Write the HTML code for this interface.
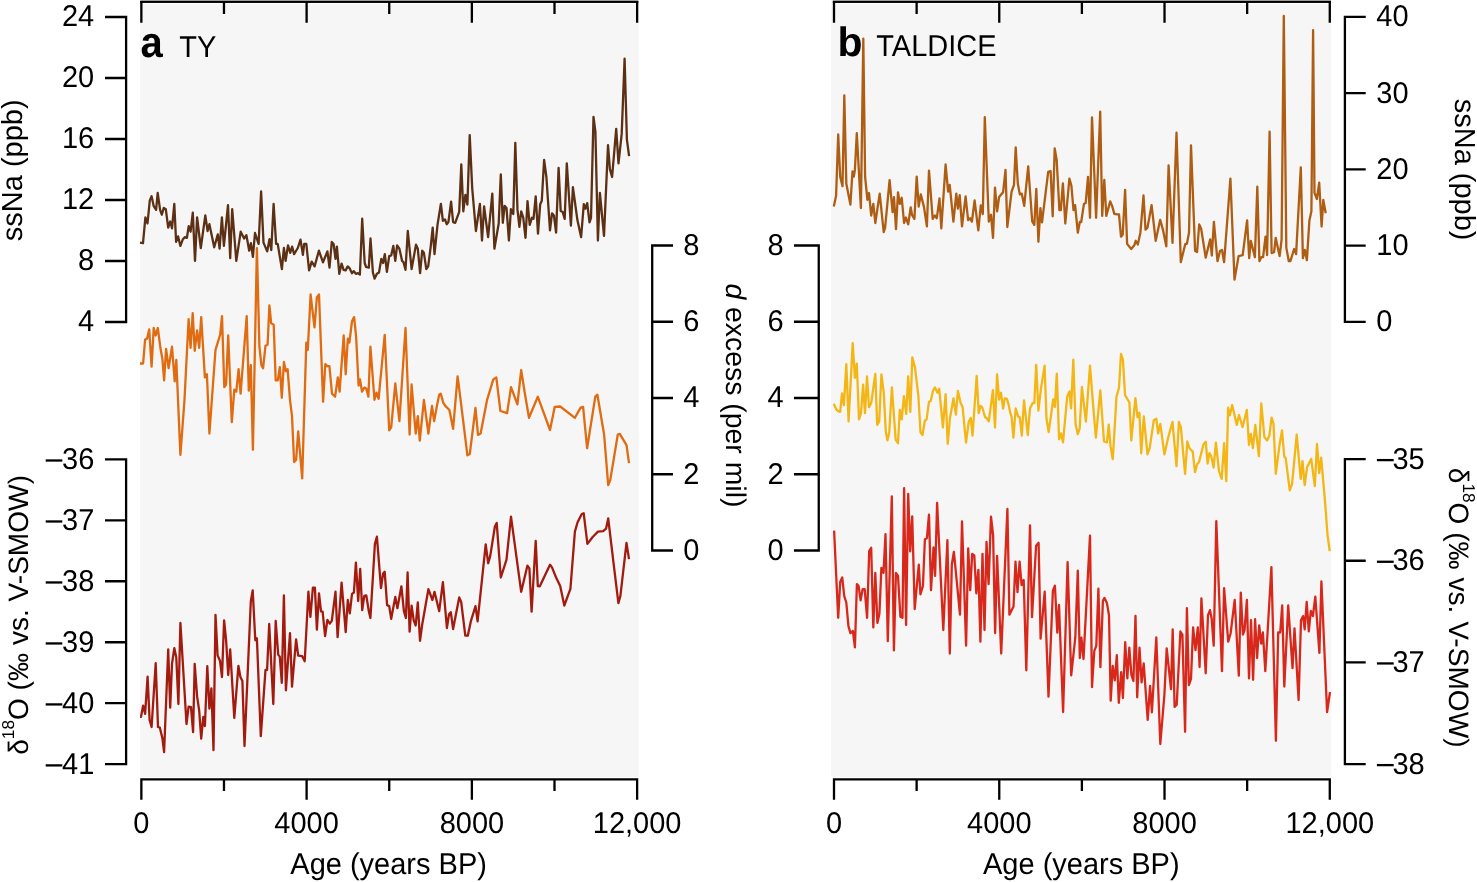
<!DOCTYPE html><html><head><meta charset="utf-8"><title>chart</title>
<style>html,body{margin:0;padding:0;background:#fff;}svg{display:block;will-change:transform;font-family:"Liberation Sans",sans-serif;}text{font-family:"Liberation Sans",sans-serif;fill:#000;text-rendering:geometricPrecision;}</style></head><body>
<svg width="1477" height="882" viewBox="0 0 1477 882">
<rect x="0" y="0" width="1477" height="882" fill="#ffffff"/>
<rect x="140.0" y="0" width="498.5" height="776.9" fill="#f6f6f6"/>
<rect x="831.1" y="0" width="500.2" height="776.9" fill="#f6f6f6"/>
<rect x="140.20" y="2.9" width="498.08" height="1.4" fill="#fff"/>
<rect x="140.20" y="0" width="498.08" height="1.1" fill="#9c9c9c"/>
<rect x="140.20" y="1.0" width="498.08" height="1.95" fill="#000"/>
<path d="M141.35 1.0V22.7M223.98 1.0V14.0M306.61 1.0V22.7M389.24 1.0V14.0M471.87 1.0V22.7M554.50 1.0V14.0M637.13 1.0V22.7M140.20 779.3H638.28M141.35 779.3V799.8M223.98 779.3V791.0M306.61 779.3V799.8M389.24 779.3V791.0M471.87 779.3V799.8M554.50 779.3V791.0M637.13 779.3V799.8" stroke="#000" stroke-width="2.3" fill="none"/>
<rect x="832.85" y="2.9" width="498.08" height="1.4" fill="#fff"/>
<rect x="832.85" y="0" width="498.08" height="1.1" fill="#9c9c9c"/>
<rect x="832.85" y="1.0" width="498.08" height="1.95" fill="#000"/>
<path d="M834.00 1.0V22.7M916.63 1.0V14.0M999.26 1.0V22.7M1081.89 1.0V14.0M1164.52 1.0V22.7M1247.15 1.0V14.0M1329.78 1.0V22.7M832.85 779.3H1330.93M834.00 779.3V799.8M916.63 779.3V791.0M999.26 779.3V799.8M1081.89 779.3V791.0M1164.52 779.3V799.8M1247.15 779.3V791.0M1329.78 779.3V799.8" stroke="#000" stroke-width="2.3" fill="none"/>
<path d="M126.1 15.85V323.15M126.1 17.00h-21.1M126.1 78.00h-21.1M126.1 139.00h-21.1M126.1 200.00h-21.1M126.1 261.00h-21.1M126.1 322.00h-21.1" stroke="#000" stroke-width="2.3" fill="none"/>
<text transform="translate(94.2 26.4) scale(1 1.035)" font-size="29" text-anchor="end" >24</text>
<text transform="translate(94.2 87.4) scale(1 1.035)" font-size="29" text-anchor="end" >20</text>
<text transform="translate(94.2 148.4) scale(1 1.035)" font-size="29" text-anchor="end" >16</text>
<text transform="translate(94.2 209.4) scale(1 1.035)" font-size="29" text-anchor="end" >12</text>
<text transform="translate(94.2 270.4) scale(1 1.035)" font-size="29" text-anchor="end" >8</text>
<text transform="translate(94.2 331.4) scale(1 1.035)" font-size="29" text-anchor="end" >4</text>
<path d="M126.1 458.15V765.35M126.1 459.30h-21.1M126.1 520.28h-21.1M126.1 581.26h-21.1M126.1 642.24h-21.1M126.1 703.22h-21.1M126.1 764.20h-21.1" stroke="#000" stroke-width="2.3" fill="none"/>
<text transform="translate(94.3 468.7) scale(1 1.035)" font-size="29" text-anchor="end" >36</text>
<path d="M45.7 460.50H62.3" stroke="#000" stroke-width="2.3" fill="none"/>
<text transform="translate(94.3 529.68) scale(1 1.035)" font-size="29" text-anchor="end" >37</text>
<path d="M45.7 521.48H62.3" stroke="#000" stroke-width="2.3" fill="none"/>
<text transform="translate(94.3 590.66) scale(1 1.035)" font-size="29" text-anchor="end" >38</text>
<path d="M45.7 582.46H62.3" stroke="#000" stroke-width="2.3" fill="none"/>
<text transform="translate(94.3 651.64) scale(1 1.035)" font-size="29" text-anchor="end" >39</text>
<path d="M45.7 643.44H62.3" stroke="#000" stroke-width="2.3" fill="none"/>
<text transform="translate(94.3 712.62) scale(1 1.035)" font-size="29" text-anchor="end" >40</text>
<path d="M45.7 704.42H62.3" stroke="#000" stroke-width="2.3" fill="none"/>
<text transform="translate(94.3 773.6) scale(1 1.035)" font-size="29" text-anchor="end" >41</text>
<path d="M45.7 765.40H62.3" stroke="#000" stroke-width="2.3" fill="none"/>
<path d="M652.2 244.35V551.65M652.2 245.50h20.8M652.2 321.75h20.8M652.2 398.00h20.8M652.2 474.25h20.8M652.2 550.50h20.8" stroke="#000" stroke-width="2.3" fill="none"/>
<text transform="translate(691.4 254.9) scale(1 1.035)" font-size="29" text-anchor="middle" >8</text>
<text transform="translate(691.4 331.15) scale(1 1.035)" font-size="29" text-anchor="middle" >6</text>
<text transform="translate(691.4 407.4) scale(1 1.035)" font-size="29" text-anchor="middle" >4</text>
<text transform="translate(691.4 483.65) scale(1 1.035)" font-size="29" text-anchor="middle" >2</text>
<text transform="translate(691.4 559.9) scale(1 1.035)" font-size="29" text-anchor="middle" >0</text>
<path d="M818.75 244.35V551.65M818.75 245.50h-24.8M818.75 321.75h-24.8M818.75 398.00h-24.8M818.75 474.25h-24.8M818.75 550.50h-24.8" stroke="#000" stroke-width="2.3" fill="none"/>
<text transform="translate(775.6 254.9) scale(1 1.035)" font-size="29" text-anchor="middle" >8</text>
<text transform="translate(775.6 331.15) scale(1 1.035)" font-size="29" text-anchor="middle" >6</text>
<text transform="translate(775.6 407.4) scale(1 1.035)" font-size="29" text-anchor="middle" >4</text>
<text transform="translate(775.6 483.65) scale(1 1.035)" font-size="29" text-anchor="middle" >2</text>
<text transform="translate(775.6 559.9) scale(1 1.035)" font-size="29" text-anchor="middle" >0</text>
<path d="M1344.9 15.75V323.05M1344.9 16.90h20.8M1344.9 93.15h20.8M1344.9 169.40h20.8M1344.9 245.65h20.8M1344.9 321.90h20.8" stroke="#000" stroke-width="2.3" fill="none"/>
<text transform="translate(1376.3 26.299999999999997) scale(1 1.035)" font-size="29" text-anchor="start" >40</text>
<text transform="translate(1376.3 102.55000000000001) scale(1 1.035)" font-size="29" text-anchor="start" >30</text>
<text transform="translate(1376.3 178.8) scale(1 1.035)" font-size="29" text-anchor="start" >20</text>
<text transform="translate(1376.3 255.05) scale(1 1.035)" font-size="29" text-anchor="start" >10</text>
<text transform="translate(1376.3 331.29999999999995) scale(1 1.035)" font-size="29" text-anchor="start" >0</text>
<path d="M1344.9 457.95V765.26M1344.9 459.10h20.8M1344.9 560.77h20.8M1344.9 662.44h20.8M1344.9 764.11h20.8" stroke="#000" stroke-width="2.3" fill="none"/>
<text transform="translate(1392.4 468.5) scale(1 1.035)" font-size="29" text-anchor="start" >35</text>
<path d="M1376.9 460.10H1393.7" stroke="#000" stroke-width="2.3" fill="none"/>
<text transform="translate(1392.4 570.17) scale(1 1.035)" font-size="29" text-anchor="start" >36</text>
<path d="M1376.9 561.77H1393.7" stroke="#000" stroke-width="2.3" fill="none"/>
<text transform="translate(1392.4 671.84) scale(1 1.035)" font-size="29" text-anchor="start" >37</text>
<path d="M1376.9 663.44H1393.7" stroke="#000" stroke-width="2.3" fill="none"/>
<text transform="translate(1392.4 773.51) scale(1 1.035)" font-size="29" text-anchor="start" >38</text>
<path d="M1376.9 765.11H1393.7" stroke="#000" stroke-width="2.3" fill="none"/>
<text transform="translate(141.3 833) scale(1 1.035)" font-size="29" text-anchor="middle" >0</text>
<text transform="translate(306.6 833) scale(1 1.035)" font-size="29" text-anchor="middle" >4000</text>
<text transform="translate(471.9 833) scale(1 1.035)" font-size="29" text-anchor="middle" >8000</text>
<text transform="translate(637.1 833) scale(1 1.035)" font-size="29" text-anchor="middle" >12,000</text>
<text transform="translate(834.0 833) scale(1 1.035)" font-size="29" text-anchor="middle" >0</text>
<text transform="translate(999.3 833) scale(1 1.035)" font-size="29" text-anchor="middle" >4000</text>
<text transform="translate(1164.5 833) scale(1 1.035)" font-size="29" text-anchor="middle" >8000</text>
<text transform="translate(1329.8 833) scale(1 1.035)" font-size="29" text-anchor="middle" >12,000</text>
<text transform="translate(388.6 873.5) scale(1 1.035)" font-size="29" text-anchor="middle" >Age (years BP)</text>
<text transform="translate(1081.3 873.5) scale(1 1.035)" font-size="29" text-anchor="middle" >Age (years BP)</text>
<text transform="translate(140.5 57.0) scale(0.93 1)" font-size="43" font-weight="bold">a</text>
<text transform="translate(179.3 57.0) scale(1 1.035)" font-size="29" text-anchor="start" >TY</text>
<text x="837.4" y="55.8" font-size="41" font-weight="bold">b</text>
<text transform="translate(876.3 55.7) scale(1 1.035)" font-size="29" text-anchor="start" >TALDICE</text>
<text transform="translate(21.8 170.3) rotate(-90)" font-size="29" text-anchor="middle">ssNa (ppb)</text>
<text transform="translate(27.8 754.8) rotate(-90)" font-size="28.1" text-anchor="start">δ<tspan font-size="17.2" dy="-13.4">18</tspan><tspan dy="13.4">O (‰ vs. V-SMOW)</tspan></text>
<text transform="translate(725.7 395.4) rotate(90)" font-size="28.4" text-anchor="middle"><tspan font-style="italic">d</tspan> excess (per mil)</text>
<text transform="translate(1455 169.6) rotate(90)" font-size="29" text-anchor="middle">ssNa (ppb)</text>
<text transform="translate(1449.4 467.8) rotate(90)" font-size="28.1" text-anchor="start">δ<tspan font-size="17.2" dy="-13.4">18</tspan><tspan dy="13.4">O (‰ vs. V-SMOW)</tspan></text>
<polyline points="140.0,716.8 141.0,716.8 143.1,705.6 145.1,713.8 147.6,676.6 149.6,719.9 151.6,727.0 155.7,663.2 158.0,727.0 159.8,727.6 162.4,738.3 164.1,752.1 168.2,649.5 170.2,707.6 172.0,663.8 174.3,648.1 176.3,657.6 178.4,704.0 180.4,623.0 186.5,724.0 188.6,706.6 191.0,707.2 193.1,732.1 194.7,663.8 197.1,696.4 199.2,710.7 201.2,738.7 203.3,716.8 204.9,726.0 207.3,666.2 209.4,708.7 211.4,688.3 213.5,750.1 215.5,614.8 217.6,655.6 220.0,660.7 222.0,677.0 224.1,620.3 226.1,640.3 228.2,675.0 230.2,649.5 234.3,717.9 238.4,665.8 240.4,677.0 242.4,681.1 244.5,746.0 250.8,601.5 252.7,590.3 255.3,640.3 256.9,638.3 260.8,736.2 265.5,669.9 267.1,669.9 269.2,624.0 273.3,704.0 275.7,620.9 278.2,654.6 279.8,656.6 281.8,682.8 283.9,595.4 285.9,690.3 290.0,633.2 292.0,686.6 296.1,639.3 298.2,655.6 302.2,656.2 304.7,661.3 308.4,591.7 310.4,616.8 312.9,587.6 314.9,587.6 316.9,629.7 319.0,593.4 321.0,611.3 322.6,611.7 325.1,636.2 327.4,619.9 329.8,623.6 331.8,620.9 335.5,591.7 337.6,637.1 341.6,582.6 345.7,632.2 347.8,600.0 349.8,613.3 352.0,593.9 353.9,592.5 355.9,562.6 358.2,601.0 360.2,569.0 362.2,610.2 364.3,595.9 366.3,595.5 368.8,611.2 370.4,618.0 374.9,543.9 376.9,536.7 381.0,588.2 383.1,573.5 384.7,571.8 387.1,605.1 389.2,606.1 391.2,618.8 395.3,596.9 397.4,608.2 401.4,586.3 403.9,611.2 405.9,618.0 407.6,572.5 409.6,631.6 411.6,605.7 413.7,620.4 415.7,625.5 417.8,602.5 420.0,640.8 422.2,624.5 428.4,589.2 432.4,600.0 434.5,591.8 439.2,611.2 442.9,582.2 446.9,628.0 449.0,614.3 450.8,612.2 453.1,629.0 459.2,597.5 461.2,602.0 465.3,635.7 467.8,635.7 470.8,621.4 475.5,606.1 477.6,621.4 485.7,544.3 488.2,563.3 490.2,556.1 494.9,526.5 496.7,522.9 500.8,577.5 506.5,559.6 511.0,516.7 521.2,591.8 527.4,565.7 529.4,568.4 531.6,611.6 535.7,540.8 537.8,586.1 539.8,586.3 550.0,564.7 552.0,567.4 556.1,577.5 560.2,586.1 564.3,605.5 570.4,588.8 574.9,531.6 577.5,522.5 581.6,514.3 583.7,513.3 587.4,543.9 592.9,536.7 598.0,531.6 603.1,531.2 606.1,528.6 608.2,518.4 613.3,561.2 618.4,603.1 620.4,595.9 626.5,542.9 629.0,559.2" fill="none" stroke="#a31b0f" stroke-width="2.3" stroke-linejoin="round" stroke-linecap="butt"/>
<polyline points="140.0,363.5 143.1,363.5 145.1,339.6 147.1,338.6 149.2,329.4 151.6,366.7 153.7,328.0 155.7,335.5 157.8,328.0 160.4,347.8 162.4,359.0 164.1,380.4 166.1,348.8 168.6,368.2 172.0,346.7 174.7,381.4 176.3,360.0 180.4,454.9 184.5,399.8 188.6,319.2 190.6,347.8 192.7,313.1 194.7,350.8 197.1,330.4 199.2,347.8 201.2,317.1 204.9,377.4 206.9,374.3 209.4,433.5 215.5,349.8 220.2,334.5 222.0,316.1 224.3,387.1 226.1,384.5 228.2,335.5 231.8,422.2 234.3,389.6 236.3,391.6 238.6,369.2 240.6,393.7 246.7,316.1 248.8,390.6 250.8,365.1 252.9,449.8 256.9,248.2 259.4,346.7 261.4,365.1 263.1,368.2 265.5,345.7 267.6,344.7 269.4,305.3 271.2,323.3 273.7,324.7 275.7,380.4 277.8,380.4 279.8,367.1 281.8,397.8 283.9,362.0 285.9,371.2 287.6,369.2 290.0,399.8 292.0,416.1 294.1,462.0 296.1,460.0 298.2,431.4 302.2,478.4 306.3,342.6 307.8,349.8 310.6,294.5 314.5,327.4 316.9,297.1 319.0,294.5 323.1,401.8 325.3,364.1 327.4,366.1 329.4,366.1 332.0,393.7 335.1,396.7 337.8,377.4 339.6,391.6 343.7,335.5 345.7,374.3 347.8,338.6 349.4,342.6 352.0,321.2 354.1,317.1 356.1,336.5 358.6,385.5 360.0,379.4 362.0,391.6 364.3,387.6 366.3,388.6 368.4,396.7 370.4,346.7 374.5,399.8 376.5,392.6 378.6,398.8 384.7,334.9 389.2,430.4 391.2,427.4 395.3,383.5 399.4,421.2 405.5,328.0 409.6,434.5 411.6,384.5 415.7,433.5 417.8,416.1 419.8,440.6 423.9,399.8 428.4,433.5 432.0,405.9 434.1,421.2 437.1,404.9 439.2,394.7 440.8,393.7 443.3,402.9 445.3,405.9 449.4,410.0 453.1,428.8 457.6,376.3 460.6,399.8 467.4,455.3 469.8,453.9 475.5,408.0 478.0,434.9 480.6,433.5 487.1,399.8 493.3,379.4 496.3,377.4 500.4,411.0 507.1,413.1 511.0,387.1 517.4,404.3 521.2,370.2 524.9,393.7 529.0,417.8 537.8,396.7 550.0,430.0 554.7,406.9 560.2,406.5 574.9,417.8 580.6,407.6 583.1,406.9 587.1,448.2 595.3,396.7 597.4,394.7 604.1,434.5 608.2,485.1 610.2,480.4 617.8,434.5 619.8,433.9 626.5,445.1 629.0,463.1" fill="none" stroke="#e06b10" stroke-width="2.3" stroke-linejoin="round" stroke-linecap="butt"/>
<polyline points="140.0,242.6 143.0,243.2 145.4,217.4 147.5,223.5 149.8,200.4 151.6,196.3 153.6,205.8 156.1,209.9 157.7,192.9 160.1,209.9 161.8,214.7 163.8,207.9 165.8,209.2 168.2,227.6 170.2,221.5 172.0,228.3 174.3,203.8 176.1,241.9 178.1,236.4 180.4,245.9 182.9,239.2 184.9,237.1 186.9,237.8 188.7,226.2 190.6,231.7 192.8,212.6 195.0,260.9 197.1,217.4 200.8,248.0 205.3,215.3 207.6,231.0 209.4,224.2 214.2,247.3 217.8,234.4 219.6,248.7 221.9,217.4 223.9,245.9 228.0,205.1 230.2,258.2 232.2,209.2 236.3,260.9 240.7,231.7 244.1,238.5 246.4,235.1 249.2,250.7 250.9,243.2 252.9,256.8 255.0,233.0 258.6,243.9 261.1,191.5 263.5,242.6 267.2,251.4 269.5,239.2 271.3,250.0 273.6,203.8 276.1,243.9 277.7,243.9 281.9,269.1 283.9,248.0 285.6,260.9 288.0,245.3 290.3,252.8 292.1,246.6 294.1,254.1 297.8,248.0 300.5,239.6 302.9,254.8 304.2,243.9 306.3,243.9 309.1,270.4 311.7,261.6 314.6,266.4 318.9,250.7 323.0,262.3 327.4,251.4 329.5,267.7 331.8,241.9 333.6,243.9 335.5,258.9 336.9,246.6 339.3,273.8 341.6,263.6 343.6,269.8 345.6,270.4 347.7,266.4 349.7,268.4 352.0,273.2 353.8,271.1 355.9,273.8 357.9,273.2 359.9,274.5 362.2,218.7 364.7,263.0 366.1,267.0 368.8,267.7 370.5,238.5 372.9,272.5 374.6,278.6 376.9,273.8 379.0,272.5 381.3,258.9 383.1,263.0 384.8,254.1 386.9,271.8 389.2,256.2 391.2,255.5 393.3,245.9 395.3,260.9 397.1,245.3 399.4,248.7 402.1,260.9 403.5,262.3 405.5,269.8 407.8,231.0 411.6,269.1 416.0,244.6 417.8,248.7 420.1,273.2 422.2,250.7 423.9,252.8 426.3,269.1 428.2,266.4 430.7,246.6 432.7,227.6 434.5,254.1 437.5,224.9 440.9,203.8 442.9,220.8 445.0,219.4 446.7,224.2 448.4,222.1 451.1,201.7 453.1,222.1 455.2,222.8 459.2,211.9 461.3,164.5 463.3,211.3 465.4,194.9 467.4,204.5 469.7,135.1 472.2,188.1 475.9,231.0 479.9,203.8 482.0,240.5 484.1,206.5 488.1,237.1 492.3,193.6 494.4,248.7 498.7,223.5 500.8,174.5 502.8,222.8 504.6,205.8 506.5,207.9 508.9,240.5 510.9,209.2 513.3,214.0 515.3,143.0 517.5,209.9 519.4,226.9 521.2,211.3 523.2,217.4 525.5,237.8 527.5,201.1 529.7,224.9 531.9,217.8 533.5,218.9 535.7,196.3 538.0,233.7 540.2,204.2 541.8,200.8 544.1,160.0 546.4,177.0 550.0,230.3 552.0,213.3 553.9,215.5 556.1,232.5 558.6,167.9 560.7,211.0 562.7,212.1 564.7,218.9 566.8,163.4 570.9,225.7 572.9,187.2 577.4,220.1 581.1,237.1 583.8,204.2 585.4,208.7 587.2,203.1 589.5,222.3 591.0,217.8 593.5,116.9 595.4,131.6 597.9,240.5 599.9,192.9 604.0,235.9 608.0,145.2 609.9,169.1 612.1,177.0 616.2,128.9 618.5,163.4 621.7,133.9 624.6,58.6 626.9,139.6 629.1,156.1" fill="none" stroke="#5c3014" stroke-width="2.3" stroke-linejoin="round" stroke-linecap="butt"/>
<polyline points="834.1,530.6 838.2,617.8 840.2,582.0 842.2,577.5 844.3,596.3 846.3,602.5 848.4,625.9 850.4,633.1 852.9,631.0 854.9,647.4 856.9,584.1 858.6,586.1 860.6,600.4 862.6,589.2 864.7,589.2 867.1,617.8 869.2,551.0 871.2,547.8 873.3,627.4 875.3,572.9 877.4,622.9 879.4,613.7 881.4,567.8 883.5,572.9 885.5,534.1 887.8,641.2 891.8,496.3 893.9,650.4 895.9,572.9 898.0,575.9 900.4,616.7 902.5,617.8 904.1,488.2 906.1,624.9 908.2,493.9 910.2,551.4 912.2,516.3 914.7,609.0 918.8,564.7 920.4,594.3 922.9,586.1 924.9,539.2 926.9,538.2 929.0,514.7 931.0,590.2 933.5,547.4 935.1,575.9 937.1,502.9 943.3,630.0 947.4,540.2 949.8,653.5 951.8,564.7 953.9,551.8 960.0,614.7 962.0,521.4 966.1,645.7 968.2,548.4 970.2,590.2 972.2,553.9 974.3,555.5 976.3,593.3 978.4,569.8 980.4,641.6 982.5,553.9 984.5,630.0 986.5,541.8 988.6,584.1 991.0,516.7 993.1,535.1 995.1,633.1 997.1,555.9 1001.2,653.5 1007.4,509.0 1009.4,614.7 1013.5,606.5 1015.5,561.6 1017.5,592.2 1019.6,561.6 1021.6,585.1 1023.7,580.0 1026.3,670.3 1030.0,525.4 1032.0,617.2 1036.1,545.8 1038.6,542.8 1040.6,638.7 1044.7,591.7 1048.5,696.7 1052.9,590.7 1054.9,585.6 1057.3,632.6 1059.0,605.0 1063.1,712.0 1067.6,562.1 1071.2,675.4 1075.3,637.7 1077.8,570.7 1079.8,658.0 1081.4,637.7 1083.5,659.0 1090.0,535.6 1092.0,687.1 1094.3,650.9 1096.3,645.8 1098.4,588.7 1100.4,667.2 1102.9,600.9 1104.5,597.9 1106.9,603.0 1109.0,615.2 1110.7,700.7 1112.7,666.0 1114.8,680.3 1116.8,655.2 1118.8,702.8 1121.2,672.2 1122.9,698.0 1125.2,642.2 1127.3,678.3 1129.3,647.7 1131.4,674.9 1133.4,681.0 1135.5,615.8 1137.2,697.3 1139.5,647.7 1141.6,682.4 1143.7,663.3 1147.7,719.8 1150.1,685.8 1151.9,712.3 1156.3,637.5 1160.3,744.0 1164.4,694.6 1166.7,648.4 1171.0,689.2 1172.7,629.5 1174.6,706.9 1176.7,704.8 1180.4,631.5 1182.4,634.6 1185.1,731.8 1186.9,608.1 1188.9,685.1 1191.0,679.0 1193.1,627.4 1195.5,650.2 1197.8,627.4 1199.6,667.0 1201.4,598.3 1205.7,673.3 1208.0,615.2 1210.0,610.1 1211.6,618.2 1213.7,645.7 1216.3,521.2 1222.0,671.2 1224.1,588.2 1228.2,641.6 1230.6,633.5 1234.7,599.8 1238.8,675.7 1240.8,592.6 1242.9,634.5 1244.5,630.4 1246.9,599.8 1249.0,678.4 1251.0,620.2 1253.1,679.8 1255.1,619.2 1257.1,658.0 1259.2,625.3 1261.2,643.7 1262.9,632.5 1265.3,671.2 1271.4,567.1 1275.9,740.8 1278.2,632.5 1280.2,632.5 1282.2,605.5 1284.3,686.5 1288.2,605.5 1292.5,668.2 1294.5,628.4 1298.6,700.0 1301.0,620.2 1303.1,616.1 1304.7,629.4 1306.7,601.8 1308.8,631.4 1310.8,611.0 1312.9,616.1 1315.3,596.7 1319.4,652.9 1321.4,581.4 1327.1,712.2 1330.0,692.0" fill="none" stroke="#d8281b" stroke-width="2.3" stroke-linejoin="round" stroke-linecap="butt"/>
<polyline points="833.8,403.7 836.1,409.1 838.2,411.2 840.2,411.9 842.0,393.5 843.9,405.1 846.3,364.2 848.6,421.4 852.7,343.2 854.9,377.9 856.8,363.6 859.0,419.4 861.0,413.2 863.1,384.7 865.0,413.2 867.0,376.5 869.0,407.1 871.2,403.0 875.3,373.8 877.2,424.8 879.2,421.4 881.4,374.5 883.7,392.1 885.8,431.6 887.4,440.4 889.2,433.0 891.9,387.4 895.7,439.8 898.0,443.2 899.8,409.8 901.7,419.4 903.9,396.2 906.2,413.9 908.2,376.5 910.3,411.9 912.3,357.4 915.0,367.6 918.4,396.2 920.5,432.3 922.5,435.0 924.8,420.7 926.6,419.4 929.0,401.7 930.7,401.0 933.0,390.8 935.0,387.4 937.5,392.8 939.2,388.7 942.9,427.5 945.6,394.2 947.7,443.8 950.0,418.0 953.5,398.3 955.9,414.6 957.9,390.8 960.6,403.0 962.6,407.1 966.0,442.5 968.8,421.4 970.8,418.0 972.5,435.7 976.7,375.8 978.7,413.2 980.6,405.8 982.4,407.8 985.1,417.3 986.5,418.0 988.8,421.4 992.9,390.1 995.0,427.5 997.1,374.5 999.1,399.6 1001.0,392.8 1003.1,408.5 1004.8,398.3 1006.9,398.9 1008.6,404.4 1010.3,413.2 1011.6,416.6 1013.4,437.7 1015.7,408.5 1018.2,416.6 1019.8,417.3 1021.8,435.7 1024.0,400.3 1027.8,435.2 1030.0,408.4 1032.5,403.2 1034.3,403.2 1036.2,364.9 1038.4,410.6 1041.1,387.7 1044.6,365.6 1046.5,418.7 1048.7,432.0 1053.2,399.5 1054.9,406.9 1056.8,373.7 1059.1,439.3 1061.0,433.4 1063.0,442.3 1067.2,396.6 1069.4,391.4 1071.1,408.4 1073.3,359.7 1075.6,424.6 1077.8,434.2 1079.7,428.3 1081.9,387.0 1085.9,421.6 1090.0,365.6 1093.0,403.9 1095.9,437.6 1100.3,390.4 1104.0,441.5 1107.0,442.3 1108.7,424.6 1110.6,446.7 1112.8,459.2 1116.5,396.6 1119.0,387.7 1121.0,353.8 1122.9,359.7 1125.1,395.1 1129.4,402.5 1131.3,440.5 1135.4,398.1 1137.5,417.2 1139.4,412.8 1141.2,453.3 1143.8,416.5 1147.5,454.4 1149.7,448.2 1153.8,420.2 1156.3,418.7 1158.1,433.4 1160.3,423.9 1164.4,454.4 1168.1,437.9 1172.5,421.9 1176.5,466.1 1178.9,421.9 1180.9,427.5 1185.1,474.0 1187.3,441.5 1189.6,448.5 1192.7,451.6 1195.0,472.1 1197.2,464.0 1199.0,462.1 1203.6,444.0 1205.8,441.8 1207.6,463.6 1209.4,453.1 1211.2,456.2 1213.6,467.6 1215.9,442.6 1219.0,471.2 1221.7,478.9 1224.1,443.1 1226.3,481.2 1228.1,407.7 1229.9,415.3 1232.2,405.0 1236.8,424.9 1239.0,415.0 1242.6,427.1 1246.8,409.9 1249.0,444.9 1250.8,434.0 1252.9,448.0 1255.3,424.9 1258.9,456.2 1261.3,403.5 1264.4,437.1 1267.1,440.4 1269.3,435.8 1271.6,417.7 1273.5,423.7 1275.8,473.9 1279.4,445.8 1282.0,430.4 1284.3,456.7 1285.6,457.6 1289.8,490.3 1292.1,483.9 1296.7,434.6 1300.7,478.9 1302.5,461.2 1304.7,485.2 1307.0,467.6 1311.2,458.9 1314.8,486.1 1317.0,444.0 1319.2,473.0 1321.2,457.6 1325.2,503.9 1327.5,534.8 1329.7,551.1" fill="none" stroke="#f4b614" stroke-width="2.3" stroke-linejoin="round" stroke-linecap="butt"/>
<polyline points="833.8,206.6 836.1,195.8 838.2,134.5 840.2,176.7 842.5,186.2 844.3,95.3 846.3,183.5 850.4,204.6 852.5,171.3 853.8,176.7 854.9,169.9 856.8,133.2 860.9,208.0 863.3,38.7 865.1,176.7 867.4,199.8 869.0,193.0 871.2,215.5 873.3,203.9 875.3,223.0 879.7,193.7 883.7,232.2 885.1,227.7 889.6,180.1 892.6,212.1 894.0,197.1 896.0,229.1 898.0,192.3 899.8,203.9 901.7,197.8 904.1,223.0 905.9,217.5 908.2,224.3 910.7,207.3 912.0,214.8 914.4,218.9 916.7,176.7 918.7,206.6 920.8,194.4 923.9,206.6 926.9,226.4 929.0,170.6 932.7,218.9 934.8,215.5 936.8,218.2 939.5,198.5 941.3,228.4 945.6,164.5 948.1,191.7 949.7,184.9 953.4,221.6 956.3,193.7 957.9,208.7 959.7,195.1 962.0,226.4 965.6,196.4 968.1,220.2 970.1,218.2 971.9,221.6 974.6,200.5 978.3,230.4 980.8,205.3 982.8,214.1 984.8,117.2 988.8,221.6 991.0,214.8 993.0,237.9 995.0,187.6 997.1,211.4 999.1,197.1 1003.1,192.3 1005.5,169.9 1007.3,227.0 1011.6,191.7 1014.0,184.9 1015.7,147.4 1017.8,183.5 1019.8,194.4 1021.8,193.7 1024.2,205.9 1028.2,166.3 1032.2,221.4 1034.3,224.9 1036.3,188.8 1038.4,241.8 1040.4,208.2 1042.0,222.4 1048.2,171.8 1050.6,171.0 1052.7,216.3 1054.7,148.4 1056.7,160.2 1059.4,210.2 1060.8,210.2 1062.9,183.3 1065.3,223.5 1069.4,178.6 1071.4,185.7 1073.5,210.2 1075.1,205.1 1077.8,232.7 1079.8,222.0 1081.2,222.0 1083.9,204.1 1085.7,203.1 1088.0,176.9 1090.0,217.8 1092.0,117.3 1096.1,217.8 1100.2,111.6 1102.2,215.9 1104.3,180.0 1106.3,215.9 1110.2,201.4 1112.2,206.1 1114.3,213.9 1116.9,214.3 1119.0,214.3 1121.0,236.7 1122.7,234.7 1125.1,189.8 1127.1,243.9 1131.2,249.0 1134.3,245.3 1135.7,240.8 1137.8,244.5 1140.4,232.7 1143.5,195.5 1145.5,229.6 1147.5,227.6 1151.6,205.1 1155.7,240.8 1160.2,219.8 1162.9,229.6 1166.3,246.3 1168.6,165.3 1172.5,242.9 1176.5,132.7 1180.8,262.2 1185.3,243.9 1186.9,243.9 1189.0,232.7 1191.0,145.3 1195.1,251.0 1197.1,252.0 1199.2,224.5 1201.2,229.0 1205.7,257.6 1210.2,239.4 1211.8,255.5 1213.9,221.8 1217.5,261.2 1220.0,251.0 1222.0,250.0 1224.1,262.2 1230.4,178.6 1234.5,279.6 1238.6,256.1 1242.7,255.1 1247.1,220.4 1249.2,258.2 1250.8,240.8 1254.9,257.1 1257.3,186.7 1259.4,261.2 1261.4,257.1 1263.1,257.1 1265.5,236.7 1267.1,255.1 1269.6,131.6 1271.6,253.1 1274.1,252.0 1275.7,237.8 1279.6,256.1 1281.6,239.6 1283.8,15.9 1286.3,247.6 1288.8,261.2 1290.4,261.2 1294.1,249.0 1296.1,254.1 1300.8,167.3 1302.9,258.2 1304.9,250.0 1306.9,260.2 1309.4,220.4 1311.4,211.2 1313.1,30.2 1314.5,192.9 1316.9,199.0 1319.2,182.7 1321.6,226.5 1323.3,200.0 1325.7,213.3" fill="none" stroke="#ae5d12" stroke-width="2.3" stroke-linejoin="round" stroke-linecap="butt"/>
</svg></body></html>
